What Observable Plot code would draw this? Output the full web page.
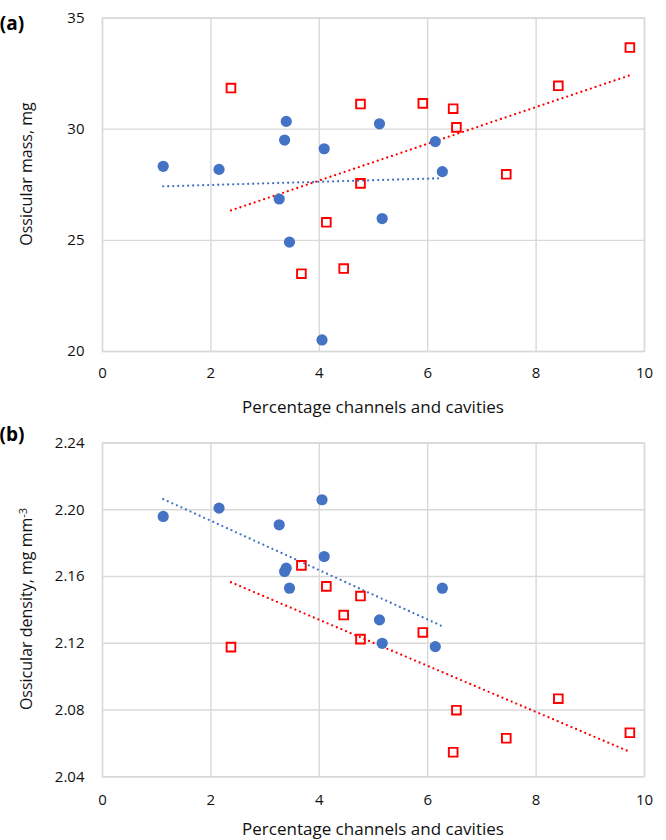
<!DOCTYPE html>
<html><head><meta charset="utf-8">
<script src="https://cdn.jsdelivr.net/npm/d3@7"></script>
<script src="https://cdn.jsdelivr.net/npm/@observablehq/plot@0.6"></script>
<style>
body{margin:0;background:#fff}
svg{display:block}
</style>
</head><body><div id="chart"></div>
<script>
// ---- data ----
const xTicks = [0, 2, 4, 6, 8, 10];
const massTicks = [20, 25, 30, 35];
const densityTicks = [2.04, 2.08, 2.12, 2.16, 2.20, 2.24];

// blue filled circles
const blueChannels = [1.12, 2.15, 3.39, 3.36, 3.26, 3.45, 4.09, 4.05, 5.11, 5.16, 6.14, 6.27];
const blueMass     = [28.33, 28.19, 30.35, 29.51, 26.86, 24.92, 29.12, 20.52, 30.24, 25.98, 29.44, 28.09];
const blueDensity  = [2.196, 2.201, 2.165, 2.163, 2.191, 2.153, 2.172, 2.206, 2.134, 2.120, 2.118, 2.153];

// red open squares
const redChannels = [2.37, 3.67, 4.13, 4.45, 4.76, 4.76, 5.91, 6.47, 6.53, 7.45, 8.41, 9.73];
const redMass     = [31.85, 23.50, 25.81, 23.73, 31.13, 27.56, 31.16, 30.92, 30.08, 27.97, 31.95, 33.67];
const redDensity  = [2.1177, 2.1667, 2.1541, 2.1369, 2.1483, 2.1225, 2.1265, 2.0547, 2.0799, 2.0631, 2.0868, 2.0664];

const xLabel = "Percentage channels and cavities";
const BLUE = "#4472C4", RED = "#FF0000", GRID = "#d9d9d9";
const FONT = "'Open Sans', 'Noto Sans', sans-serif";
const INK = "#111";

const blue = blueChannels.map((c, i) => ({c, mass: blueMass[i], density: blueDensity[i]}));
const red = redChannels.map((c, i) => ({c, mass: redMass[i], density: redDensity[i]}));

function panel({tag, field, domain, ticks, fmt, marginTop, marginBottom, height, xTickPad, tagY, xLabelY, yLabelMain, yLabelSup, yLabelCenter}) {
  const svg = Plot.plot({
    width: 666, height, marginLeft: 102, marginRight: 22, marginTop, marginBottom,
    style: {fontFamily: FONT, fontSize: "15px", color: INK, background: "#fff", overflow: "visible"},
    x: {domain: [0, 10], ticks: xTicks, tickSize: 0, tickPadding: xTickPad, label: null},
    y: {domain, ticks, tickSize: 0, tickPadding: 18, tickFormat: fmt, label: null},
    marks: [
      Plot.gridX(xTicks, {stroke: GRID, strokeOpacity: 1, strokeWidth: 1.4}),
      Plot.gridY(ticks, {stroke: GRID, strokeOpacity: 1, strokeWidth: 1.4}),
      Plot.frame({stroke: GRID, strokeWidth: 1.4}),
      Plot.linearRegressionY(red, {x: "c", y: field, stroke: RED, ci: 0, strokeWidth: 2.3, strokeDasharray: "0,5", strokeLinecap: "round"}),
      Plot.linearRegressionY(blue, {x: "c", y: field, stroke: BLUE, ci: 0, strokeWidth: 2.3, strokeDasharray: "0,5", strokeLinecap: "round"}),
      Plot.dot(red, {x: "c", y: field, symbol: "square", r: 4.9, stroke: RED, strokeWidth: 1.9, fill: "none"}),
      Plot.dot(blue, {x: "c", y: field, symbol: "circle", r: 5.6, fill: BLUE, stroke: "none"})
    ]
  });
  const s = d3.select(svg);
  s.append("text").attr("x", 12).attr("y", tagY)
    .attr("font-family", FONT).attr("font-size", 19).attr("font-weight", "bold").attr("fill", "#000").text(tag);
  s.append("text").attr("x", 102 + (666 - 124) / 2).attr("y", xLabelY).attr("text-anchor", "middle")
    .attr("font-family", FONT).attr("font-size", 17).attr("fill", INK).text(xLabel);
  const yl = s.append("text").attr("transform", `translate(31.5,${yLabelCenter}) rotate(-90)`).attr("text-anchor", "middle")
    .attr("font-family", FONT).attr("font-size", 16).attr("fill", INK);
  yl.append("tspan").text(yLabelMain);
  if (yLabelSup) yl.append("tspan").attr("dy", "-0.45em").attr("font-size", 11).text(yLabelSup);
  return svg;
}

const root = document.getElementById("chart");
root.appendChild(panel({
  tag: "(a)", field: "mass", domain: [20, 35], ticks: massTicks, fmt: d3.format("d"),
  marginTop: 17.5, marginBottom: 69, height: 420, xTickPad: 16, tagY: 30, xLabelY: 413,
  yLabelMain: "Ossicular mass, mg", yLabelSup: null, yLabelCenter: 174
}));
root.appendChild(panel({
  tag: "(b)", field: "density", domain: [2.04, 2.24], ticks: densityTicks, fmt: d3.format(".2f"),
  marginTop: 22.5, marginBottom: 63.7, height: 420, xTickPad: 18, tagY: 20.7, xLabelY: 414.5,
  yLabelMain: "Ossicular density, mg mm", yLabelSup: "-3", yLabelCenter: 189
}));
</script>
</body></html>
